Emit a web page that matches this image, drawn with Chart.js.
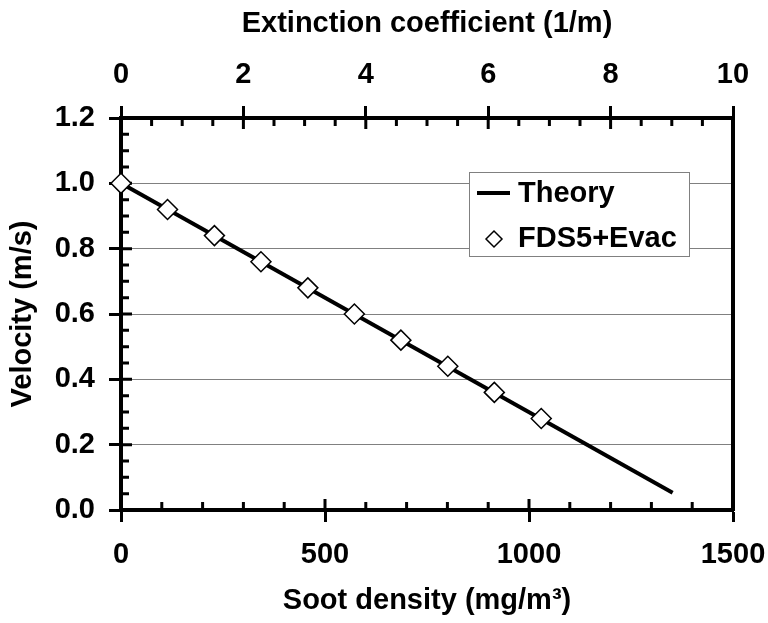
<!DOCTYPE html>
<html>
<head>
<meta charset="utf-8">
<script src="https://cdn.jsdelivr.net/npm/chart.js@4/dist/chart.umd.min.js"></script>
<style>
  body { margin: 0; background: #fff; }
  #wrap { width: 768px; height: 623px; }
</style>
</head>
<body>
<div id="wrap"><canvas id="chart" width="768" height="623"></canvas></div>
<script>
// --- Data ---
const sootDensity = [0, 114, 229, 343, 458, 572, 686, 801, 915, 1030];
const velocityFds = [1.0, 0.92, 0.84, 0.76, 0.68, 0.60, 0.52, 0.44, 0.36, 0.28];
const theorySoot = [0, 1352];
const theoryVelocity = [1.0, 0.053];
const seriesNames = ['Theory', 'FDS5+Evac'];
const axisTitles = { x: 'Soot density (mg/m³)', x2: 'Extinction coefficient (1/m)', y: 'Velocity (m/s)' };

const FONT = '"Liberation Sans", Arial, sans-serif';
const tickFont = { family: FONT, size: 29, weight: 'bold' };
const titleFont = { family: FONT, size: 29, weight: 'bold' };

const toPoints = (xs, ys) => xs.map((x, i) => ({ x, y: ys[i] }));

// keep the plot box fixed, whatever the label overhang
const fixBox = (w, h) => s => {
    if (w != null) s.width = w;
    if (h != null) s.height = h;
    s.paddingLeft = s.paddingRight = s.paddingTop = s.paddingBottom = 0;
};

// inward tick marks (minor + inner half of the major ones)
const innerTicks = {
    id: 'innerTicks',
    beforeDatasetsDraw(chart) {
        const { ctx, chartArea: a, scales } = chart;
        ctx.save();
        ctx.strokeStyle = '#000';
        ctx.lineWidth = 3;
        ctx.beginPath();
        const walk = (scale, step, majorEvery, fn) => {
            const n = Math.round((scale.max - scale.min) / step);
            for (let i = 1; i < n; i++) {
                const p = scale.getPixelForValue(scale.min + i * step);
                fn(p, i % majorEvery === 0 ? 11 : 8);
            }
        };
        walk(scales.y, 0.05, 4, (p, len) => { ctx.moveTo(a.left, p); ctx.lineTo(a.left + len, p); });
        walk(scales.x, 100, 5, (p, len) => { ctx.moveTo(p, a.bottom); ctx.lineTo(p, a.bottom - len); });
        walk(scales.x2, 0.5, 4, (p, len) => { ctx.moveTo(p, a.top); ctx.lineTo(p, a.top + len); });
        ctx.stroke();
        ctx.restore();
    }
};

// legend box drawn inside the plot
const boxLegend = {
    id: 'boxLegend',
    afterDraw(chart) {
        const { ctx } = chart;
        const ds = chart.data.datasets;
        ctx.save();
        ctx.fillStyle = '#fff';
        ctx.fillRect(469, 172, 220, 84);
        ctx.strokeStyle = '#808080';
        ctx.lineWidth = 1;
        ctx.strokeRect(469.5, 172.5, 220, 84);

        ctx.strokeStyle = '#000';
        ctx.lineWidth = 4;
        ctx.beginPath();
        ctx.moveTo(477, 193);
        ctx.lineTo(510, 193);
        ctx.stroke();

        ctx.fillStyle = '#fff';
        ctx.strokeStyle = '#000';
        ctx.lineWidth = 1.5;
        Chart.helpers.drawPoint(ctx, { pointStyle: 'rectRot', radius: 8, borderWidth: 1.5 }, 494, 239);

        ctx.fillStyle = '#000';
        ctx.font = 'bold 29px ' + FONT;
        ctx.textBaseline = 'middle';
        ctx.fillText(ds.find(d => d.label === seriesNames[0]).label, 518, 194);
        ctx.fillText(ds.find(d => d.label === seriesNames[1]).label, 518, 239);
        ctx.restore();
    }
};

new Chart(document.getElementById('chart'), {
    type: 'scatter',
    data: {
        datasets: [
            {
                label: seriesNames[1],
                data: toPoints(sootDensity, velocityFds),
                pointStyle: 'rectRot',
                pointRadius: 10,
                pointBackgroundColor: '#fff',
                pointBorderColor: '#000',
                pointBorderWidth: 1.5,
                showLine: false,
                clip: false,
                order: 0
            },
            {
                label: seriesNames[0],
                data: toPoints(theorySoot, theoryVelocity),
                showLine: true,
                borderColor: '#000',
                borderWidth: 4,
                pointRadius: 0,
                clip: false,
                order: 1
            }
        ]
    },
    options: {
        responsive: false,
        animation: false,
        layout: { padding: 0 },
        plugins: { legend: { display: false }, tooltip: { enabled: false } },
        scales: {
            x: {
                type: 'linear', position: 'bottom', min: 0, max: 1500,
                afterFit: fixBox(null, 113),
                ticks: { stepSize: 500, color: '#000', font: tickFont, padding: 16, maxRotation: 0, callback: v => String(v) },
                grid: { drawOnChartArea: false, drawTicks: true, tickLength: 12, tickWidth: 3, tickColor: '#000' },
                border: { color: '#000', width: 4 },
                title: { display: true, text: axisTitles.x, color: '#000', font: titleFont, padding: { bottom: 5 } }
            },
            x2: {
                type: 'linear', position: 'top', min: 0, max: 10,
                afterFit: fixBox(null, 118),
                ticks: { stepSize: 2, color: '#000', font: tickFont, padding: 14, maxRotation: 0, callback: v => String(v) },
                grid: { drawOnChartArea: false, drawTicks: true, tickLength: 12, tickWidth: 3, tickColor: '#000' },
                border: { color: '#000', width: 4 },
                title: { display: true, text: axisTitles.x2, color: '#000', font: titleFont, padding: { top: 7 } }
            },
            y: {
                type: 'linear', position: 'left', min: 0, max: 1.2,
                afterFit: fixBox(121, null),
                ticks: { stepSize: 0.2, color: '#000', font: tickFont, padding: 14, callback: v => v.toFixed(1) },
                grid: {
                    color: c => (c.tick && c.tick.value > 0.01 && c.tick.value < 1.19) ? '#808080' : 'rgba(0,0,0,0)',
                    lineWidth: 1, drawTicks: true, tickLength: 12, tickWidth: 3, tickColor: '#000'
                },
                border: { color: '#000', width: 4 },
                title: { display: true, text: axisTitles.y, color: '#000', font: titleFont, padding: { top: 6 } }
            },
            y2: {
                type: 'linear', position: 'right', min: 0, max: 1.2,
                afterFit: fixBox(35, null),
                ticks: { display: false },
                grid: { display: false },
                border: { display: true, color: '#000', width: 4 }
            }
        }
    },
    plugins: [innerTicks, boxLegend]
});
</script>
</body>
</html>
